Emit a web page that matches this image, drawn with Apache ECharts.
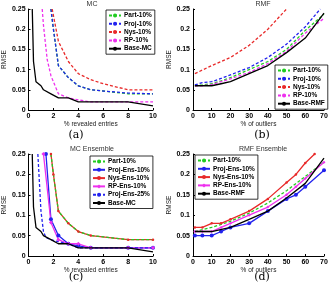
<!DOCTYPE html>
<html><head><meta charset="utf-8">
<script src="https://cdn.jsdelivr.net/npm/echarts@6/dist/echarts.min.js"></script>
<style>html,body{margin:0;padding:0;background:#fff}#c{width:331px;height:287px}</style>
</head><body><div id="c"></div>
<script>
// ---- Panel (a): MC ----
const mcBaseX = [0.3, 0.4, 0.6, 1.0, 1.2, 1.8, 2.4, 3.2, 4, 5, 8, 10];
const mcBaseY = [0.25, 0.12, 0.07, 0.06, 0.05, 0.04, 0.03, 0.03, 0.02, 0.02, 0.02, 0.01];
const aPartX = [1.8, 2.0, 2.4, 3.2, 4, 5, 6, 8, 10];
const aPartY = [0.25, 0.2, 0.11, 0.08, 0.06, 0.05, 0.047, 0.04, 0.04];
const aProjX = [1.8, 2.0, 2.4, 3.2, 4, 5, 6, 8, 10];
const aProjY = [0.25, 0.2, 0.11, 0.08, 0.06, 0.05, 0.047, 0.042, 0.04];
const aNysX = [1.9, 2.4, 3.2, 4, 5, 6, 8, 10];
const aNysY = [0.25, 0.17, 0.12, 0.09, 0.075, 0.065, 0.05, 0.05];
const aRpX = [1.1, 1.2, 1.5, 1.8, 2.4, 3.2, 4, 5, 8, 10];
const aRpY = [0.25, 0.21, 0.125, 0.085, 0.04, 0.03, 0.025, 0.02, 0.02, 0.02];
// ---- Panel (b): RMF ----
const rmfX = [1, 5, 10, 15, 20, 30, 40, 50, 60, 70];
const rmfBaseY = [0.06, 0.06, 0.06, 0.065, 0.07, 0.09, 0.11, 0.142, 0.178, 0.24];
const bPartY = [0.06, 0.062, 0.065, 0.072, 0.08, 0.1, 0.12, 0.15, 0.197, 0.237];
const bProjX = [1, 5, 10, 15, 20, 30, 40, 50, 60, 68];
const bProjY = [0.062, 0.068, 0.07, 0.078, 0.087, 0.105, 0.13, 0.163, 0.206, 0.25];
const bRpY = [0.06, 0.06, 0.063, 0.07, 0.077, 0.093, 0.115, 0.145, 0.19, 0.227];
const bNysX = [1, 10, 20, 30, 40, 50];
const bNysY = [0.09, 0.11, 0.13, 0.16, 0.2, 0.25];
// ---- Panel (c): MC Ensemble ----
const cNysX = [1.8, 2.0, 2.4, 3.2, 4, 5, 8, 10];
const cNysY = [0.25, 0.2, 0.11, 0.08, 0.06, 0.05, 0.04, 0.04];
const cProjX = [1.4, 1.8, 2.4, 3.2, 4, 5, 8, 10];
const cProjY = [0.25, 0.09, 0.05, 0.03, 0.025, 0.02, 0.02, 0.02];
const cRpX = [1.2, 1.8, 2.4, 3.2, 4, 5, 8, 10];
const cRpY = [0.25, 0.082, 0.04, 0.03, 0.03, 0.02, 0.02, 0.02];
const cProj25X = [0.75, 1.0, 1.2, 1.4, 1.8, 2.4, 3.2, 4, 5, 8, 10];
const cProj25Y = [0.25, 0.11, 0.06, 0.045, 0.04, 0.035, 0.03, 0.02, 0.02, 0.02, 0.02];
// ---- Panel (d): RMF Ensemble ----
const dX = [1, 5, 10, 15, 20, 30, 40, 50, 55, 60, 70];
const dProjY = [0.05, 0.05, 0.05, 0.06, 0.07, 0.08, 0.11, 0.14, 0.15, 0.17, 0.21];
const dRpY = [0.06, 0.06, 0.06, 0.07, 0.08, 0.1, 0.12, 0.15, 0.17, 0.19, 0.23];
const dNysX = [1, 5, 10, 15, 20, 30, 40, 50, 55, 60, 65];
const dNysY = [0.07, 0.07, 0.08, 0.08, 0.09, 0.11, 0.14, 0.18, 0.2, 0.228, 0.25];
const dPartX = [1, 10, 20, 30, 40, 50, 60, 70];
const dPartY = [0.06, 0.07, 0.085, 0.105, 0.13, 0.16, 0.195, 0.23];
const dBaseX = [1, 10, 20, 30, 40, 50, 60, 70];
const dBaseY = [0.06, 0.06, 0.07, 0.09, 0.11, 0.142, 0.178, 0.24];

const titles = ['MC', 'RMF', 'MC Ensemble', 'RMF Ensemble'];
const xNames = ['% revealed entries', '% of outliers', '% revealed entries', '% of outliers'];
const subLabels = ['(a)', '(b)', '(c)', '(d)'];

const G = '#22cc22', B = '#2222ee', R = '#e82a2a', M = '#ee30ee', K = '#000';
const FONT = 'Liberation Sans, Arial, sans-serif';
const zip = (xs, ys) => xs.map((x, i) => [x, ys[i]]);

function ln(name, idx, xs, ys, color, dash, sym, symSize) {
  return {
    name, type: 'line', xAxisIndex: idx, yAxisIndex: idx, data: zip(xs, ys),
    symbol: sym || 'none', symbolSize: symSize || 0, showSymbol: !!sym,
    itemStyle: { color }, lineStyle: { color, width: 1.3, type: dash ? [3, 2] : 'solid' },
    animation: false, clip: true, z: name.startsWith('Base') ? 3 : 2
  };
}

const grids = [
  { left: 22, top: 9, width: 131, height: 101 },
  { left: 193, top: 9, width: 131, height: 101 },
  { left: 22, top: 154, width: 131, height: 102 },
  { left: 193, top: 154, width: 131, height: 102 }
];
const labelPos = [[76, 135], [262, 135], [76, 277], [262, 277]];
const xMax = [10, 70, 10, 70], xInt = [2, 10, 2, 10];
const axLine = { show: true, lineStyle: { color: '#000', width: 1 } };

const chart = echarts.init(document.getElementById('c'), null, { renderer: 'canvas' });
chart.setOption({
  animation: false,
  textStyle: { fontFamily: FONT },
  title: titles.map((t, i) => ({
    text: t, left: grids[i].left + 65, top: i < 2 ? -4 : 141, textAlign: 'center',
    textStyle: { fontSize: 7, fontWeight: 'normal', color: '#333', fontFamily: FONT }
  })),
  grid: grids,
  xAxis: grids.map((g, i) => ({
    type: 'value', gridIndex: i, min: 0, max: xMax[i], interval: xInt[i],
    name: xNames[i], nameLocation: 'middle', nameGap: 10,
    nameTextStyle: { fontSize: 6.5, color: '#222', fontFamily: FONT },
    axisLine: axLine, splitLine: { show: false },
    axisTick: { show: true, inside: true, length: 2, lineStyle: { color: '#000' } },
    axisLabel: { fontSize: 7, color: '#000', margin: 3, fontWeight: 'bold', fontFamily: FONT }
  })),
  yAxis: grids.map((g, i) => ({
    type: 'value', gridIndex: i, min: 0, max: 0.25, interval: 0.05,
    name: 'RMSE', nameLocation: 'middle', nameGap: 16,
    nameTextStyle: { fontSize: 6.5, color: '#222', fontFamily: FONT },
    axisLine: axLine, splitLine: { show: false },
    axisTick: { show: true, inside: true, length: 2, lineStyle: { color: '#000' } },
    axisLabel: { fontSize: 7, color: '#000', margin: 3, fontWeight: 'bold', fontFamily: FONT }
  })),
  legend: [
    { data: ['Part-10%', 'Proj-10%', 'Nys-10%', 'RP-10%', 'Base-MC'], left: 106, top: 10 },
    { data: ['Part-10%', 'Proj-10%', 'Nys-10%', 'RP-10%', 'Base-RMF'], left: 275, top: 65 },
    { data: ['Part-10%', 'Proj-Ens-10%', 'Nys-Ens-10%', 'RP-Ens-10%', 'Proj-Ens-25%', 'Base-MC'], left: 90, top: 156 },
    { data: ['Part-10%', 'Proj-Ens-10%', 'Nys-Ens-10%', 'RP-Ens-10%', 'Base-RMF'], left: 195, top: 155 }
  ].map(l => Object.assign({
    orient: 'vertical', itemWidth: 12, itemHeight: 5, itemGap: 1.3, padding: [2, 3, 2, 2],
    backgroundColor: '#fff', borderColor: '#000', borderWidth: 0.8, borderRadius: 0,
    selectedMode: false,
    textStyle: { fontSize: 6.5, lineHeight: 7, color: '#000', fontWeight: 'bold', fontFamily: FONT, padding: [0, 0, 0, -2] }
  }, l)),
  graphic: subLabels.map((t, i) => ({
    type: 'text', x: labelPos[i][0], y: labelPos[i][1],
    style: { text: t, font: '11px "DejaVu Serif", serif', fill: '#000', textAlign: 'center', textVerticalAlign: 'middle' }
  })),
  series: [
    ln('Part-10%', 0, aPartX, aPartY, G, true),
    ln('Proj-10%', 0, aProjX, aProjY, B, true),
    ln('Nys-10%', 0, aNysX, aNysY, R, true),
    ln('RP-10%', 0, aRpX, aRpY, M, true),
    ln('Base-MC', 0, mcBaseX, mcBaseY, K, false),

    ln('Part-10%', 1, rmfX, bPartY, G, true),
    ln('Proj-10%', 1, bProjX, bProjY, B, true),
    ln('Nys-10%', 1, bNysX, bNysY, R, true),
    ln('RP-10%', 1, rmfX, bRpY, M, true),
    ln('Base-RMF', 1, rmfX, rmfBaseY, K, false),

    ln('Nys-Ens-10%', 2, cNysX, cNysY, R, false, 'circle', 2.5),
    ln('Part-10%', 2, aPartX, aPartY, G, true),
    ln('Proj-Ens-10%', 2, cProjX, cProjY, B, false, 'circle', 4),
    ln('RP-Ens-10%', 2, cRpX, cRpY, M, false, 'diamond', 4),
    ln('Proj-Ens-25%', 2, cProj25X, cProj25Y, B, true),
    ln('Base-MC', 2, mcBaseX, mcBaseY, K, false),

    ln('Part-10%', 3, dPartX, dPartY, G, true),
    ln('Proj-Ens-10%', 3, dX, dProjY, B, false, 'circle', 4),
    ln('Nys-Ens-10%', 3, dNysX, dNysY, R, false, 'circle', 2.5),
    ln('RP-Ens-10%', 3, dX, dRpY, M, false, 'diamond', 3),
    ln('Base-RMF', 3, dBaseX, dBaseY, K, false)
  ]
});
</script></body></html>
